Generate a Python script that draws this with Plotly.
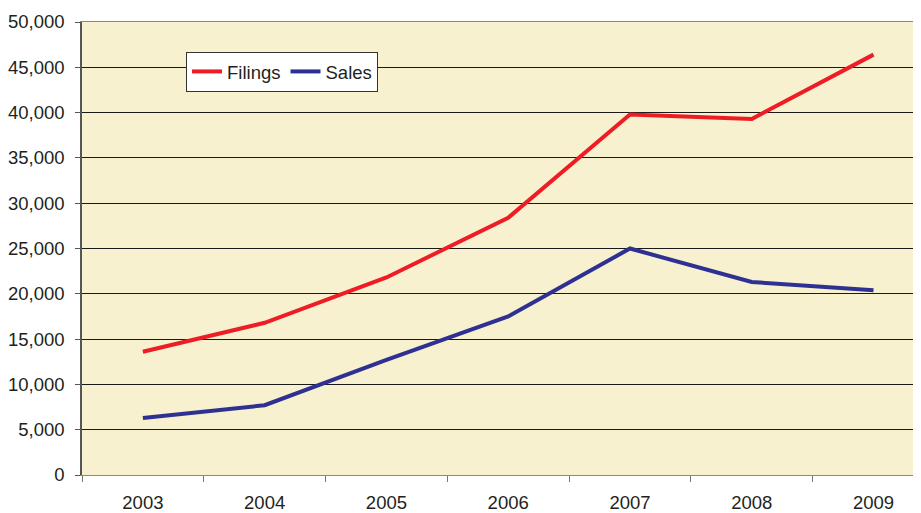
import plotly.graph_objects as go

years = ["2003", "2004", "2005", "2006", "2007", "2008", "2009"]
filings = [13600, 16800, 21800, 28400, 39800, 39300, 46400]
sales = [6300, 7700, 12700, 17500, 25000, 21300, 20400]
y_ticks = [0, 5000, 10000, 15000, 20000, 25000, 30000, 35000, 40000, 45000, 50000]

fig = go.Figure()
fig.add_trace(go.Scatter(x=years, y=filings, name="Filings", mode="lines",
                         line=dict(color="#EE1C25", width=4)))
fig.add_trace(go.Scatter(x=years, y=sales, name="Sales", mode="lines",
                         line=dict(color="#2E3192", width=4)))

fig.update_layout(
    width=913, height=505,
    margin=dict(l=74, r=0, t=14, b=38, autoexpand=False),
    paper_bgcolor="white",
    plot_bgcolor="#F7F1CF",
    font=dict(family="Liberation Sans, Arial, sans-serif", size=18.5, color="#231F20"),
    showlegend=True,
    legend=dict(orientation="h", x=0.124, y=0.934, xanchor="left", yanchor="top",
                bgcolor="white", bordercolor="#333333", borderwidth=1,
                font=dict(size=18.5), itemwidth=30, tracegroupgap=0),
    xaxis=dict(type="category", range=[-0.5, 6.39], tickson="boundaries",
               ticks="outside", ticklen=6, tickcolor="#777777",
               showline=True, linecolor="#888888", linewidth=1, mirror=True,
               showgrid=False, automargin=False, ticklabelstandoff=11),
    yaxis=dict(range=[0, 50000], tickvals=y_ticks, tickformat=",d",
               ticks="outside", ticklen=5, tickcolor="#555555",
               showline=True, linecolor="#555555", linewidth=1.5,
               showgrid=True, gridcolor="#1a1a1a", gridwidth=1,
               zeroline=False, automargin=False, ticklabelstandoff=7),
)

fig.write_html("out.html")
